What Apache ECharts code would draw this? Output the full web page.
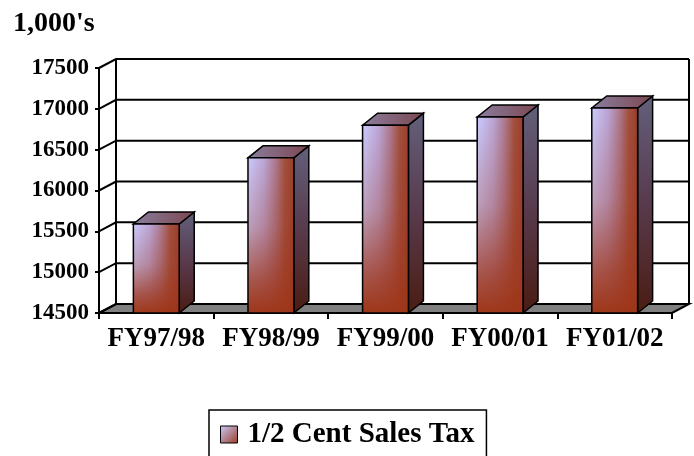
<!DOCTYPE html>
<html>
<head>
<meta charset="utf-8">
<script src="https://cdn.jsdelivr.net/npm/echarts@6/dist/echarts.min.js"></script>
<style>
  html, body { margin: 0; padding: 0; background: #fff; }
  #chart { width: 694px; height: 456px; }
</style>
</head>
<body>
<div id="chart"></div>
<script>
// Half-cent sales tax revenue by fiscal year (thousands of dollars)
const categories = ['FY97/98', 'FY98/99', 'FY99/00', 'FY00/01', 'FY01/02'];
const salesTax = [15590, 16400, 16800, 16900, 17010];
const yTicks = [14500, 15000, 15500, 16000, 16500, 17000, 17500];
const seriesName = '1/2 Cent Sales Tax';

const FONT = '"Liberation Serif", "Times New Roman", Times, serif';
const LG = echarts.graphic.LinearGradient;

// depth offsets of the 3D frame and of the columns
const WALL_DX = 17, WALL_DY = 9;
const BAR_DX = 15, BAR_DY = 12;

const chart = echarts.init(document.getElementById('chart'), null, { renderer: 'canvas' });

// Floor, back wall and side-wall grid lines
function renderFrame(params, api) {
  const cs = params.coordSys;
  const x0 = cs.x, x1 = cs.x + cs.width;
  const yMin = yTicks[0], yMax = yTicks[yTicks.length - 1];
  const yb = api.coord([0, yMin])[1];
  const yt = api.coord([0, yMax])[1];
  const line = { stroke: '#000', lineWidth: 2, fill: null };
  const children = [];
  // floor
  children.push({
    type: 'polygon',
    shape: { points: [[x0, yb], [x1, yb], [x1 + WALL_DX, yb - WALL_DY], [x0 + WALL_DX, yb - WALL_DY]] },
    style: { fill: '#808080', stroke: '#000', lineWidth: 2 }
  });
  // horizontal grid lines on side wall and back wall
  yTicks.forEach(function (t) {
    const y = api.coord([0, t])[1];
    children.push({
      type: 'polyline',
      shape: { points: [[x0, y], [x0 + WALL_DX, y - WALL_DY], [x1 + WALL_DX, y - WALL_DY]] },
      style: line
    });
  });
  // back wall verticals
  children.push({
    type: 'line',
    shape: { x1: x0 + WALL_DX, y1: yt - WALL_DY, x2: x0 + WALL_DX, y2: yb - WALL_DY },
    style: line
  });
  children.push({
    type: 'line',
    shape: { x1: x1 + WALL_DX, y1: yt - WALL_DY, x2: x1 + WALL_DX, y2: yb - WALL_DY },
    style: line
  });
  return { type: 'group', children: children };
}

// One 3D column: front face, right side, top
function renderBar(params, api) {
  const i = api.value(0), v = api.value(1);
  const top = api.coord([i, v]);
  const base = api.coord([i, yTicks[0]]);
  const w = api.size([1, 0])[0] * 0.4;
  const xL = top[0] - w / 2, xR = top[0] + w / 2;
  const yT = top[1], yB = base[1];
  const edge = { stroke: '#000', lineWidth: 1.5 };
  return {
    type: 'group',
    children: [
      {
        type: 'polygon',
        shape: { points: [[xR, yT], [xR + BAR_DX, yT - BAR_DY], [xR + BAR_DX, yB - BAR_DY], [xR, yB]] },
        style: Object.assign({
          fill: new LG(0, 0, 0, 1, [
            { offset: 0, color: '#63607c' },
            { offset: 0.5, color: '#583a4c' },
            { offset: 1, color: '#4a1c12' }
          ])
        }, edge)
      },
      {
        type: 'polygon',
        shape: { points: [[xL, yT], [xR, yT], [xR + BAR_DX, yT - BAR_DY], [xL + BAR_DX, yT - BAR_DY]] },
        style: Object.assign({
          fill: new LG(0, 0, 1, 0, [
            { offset: 0, color: '#8a7e9e' },
            { offset: 1, color: '#7c4650' }
          ])
        }, edge)
      },
      {
        type: 'rect',
        shape: { x: xL, y: yT, width: w, height: yB - yT },
        style: {
          fill: new LG(0, 0, 1, 0, [
            { offset: 0, color: '#cacbff' },
            { offset: 0.35, color: '#bba6d6' },
            { offset: 0.6, color: '#ad7a90' },
            { offset: 0.8, color: '#a2503e' },
            { offset: 1, color: '#9c3e2c' }
          ])
        }
      },
      {
        type: 'rect',
        shape: { x: xL, y: yT, width: w, height: yB - yT },
        style: Object.assign({
          fill: new LG(0, 0, 0, 1, [
            { offset: 0, color: 'rgba(158,56,30,0)' },
            { offset: 0.45, color: 'rgba(158,56,30,0.3)' },
            { offset: 0.8, color: 'rgba(158,56,30,0.8)' },
            { offset: 1, color: 'rgba(158,54,24,1)' }
          ])
        }, edge)
      }
    ]
  };
}

const option = {
  backgroundColor: '#ffffff',
  animation: false,
  title: {
    text: "1,000's",
    left: 8,
    top: 5,
    textStyle: { fontFamily: FONT, fontSize: 28, fontWeight: 'bold', color: '#000' }
  },
  legend: {
    data: [seriesName],
    left: 209,
    top: 410,
    padding: [10, 12, 12, 11],
    borderColor: '#000',
    borderWidth: 1.5,
    itemWidth: 17,
    itemHeight: 17,
    icon: 'rect',
    selectedMode: false,
    itemStyle: {
      color: new LG(0, 0, 1, 1, [
        { offset: 0, color: '#cacbff' },
        { offset: 1, color: '#9c3a24' }
      ]),
      borderColor: '#000',
      borderWidth: 1
    },
    textStyle: { fontFamily: FONT, fontSize: 29, fontWeight: 'bold', color: '#000', padding: [2, 0, 0, 5] }
  },
  grid: { left: 99, right: 22, top: 68, bottom: 143 },
  xAxis: {
    type: 'category',
    data: categories,
    boundaryGap: true,
    axisLine: { show: true, lineStyle: { color: '#000', width: 2 } },
    axisTick: { show: true, length: 6, lineStyle: { color: '#000', width: 2 } },
    axisLabel: { interval: 0, margin: 13, fontFamily: FONT, fontSize: 27, fontWeight: 'bold', color: '#000' },
    splitLine: { show: false }
  },
  yAxis: {
    type: 'value',
    min: yTicks[0],
    max: yTicks[yTicks.length - 1],
    interval: 500,
    axisLine: { show: true, lineStyle: { color: '#000', width: 2 } },
    axisTick: { show: true, length: 4, lineStyle: { color: '#000', width: 2 } },
    axisLabel: {
      margin: 10, fontFamily: FONT, fontSize: 23, fontWeight: 'bold', color: '#000',
      formatter: function (v) { return String(v); }
    },
    splitLine: { show: false }
  },
  series: [
    {
      type: 'custom',
      name: 'frame',
      z: 1,
      silent: true,
      renderItem: renderFrame,
      data: [[0, yTicks[0]]]
    },
    {
      type: 'custom',
      name: seriesName,
      z: 3,
      renderItem: renderBar,
      itemStyle: { color: '#a04a3a' },
      data: salesTax.map(function (v, i) { return [i, v]; })
    }
  ]
};

chart.setOption(option);
</script>
</body>
</html>
